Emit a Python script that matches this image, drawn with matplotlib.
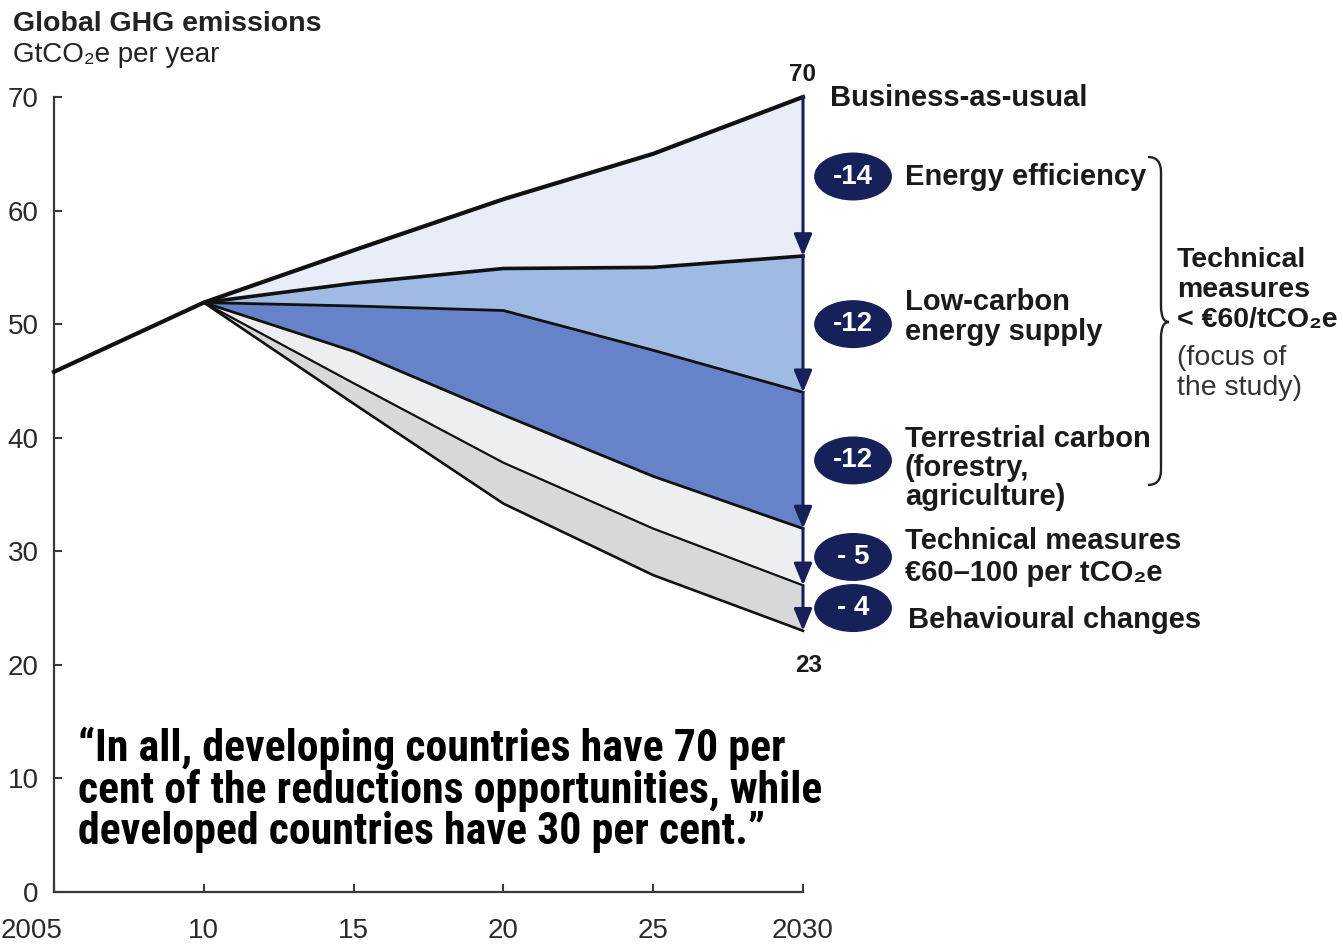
import matplotlib
matplotlib.use("Agg")
import matplotlib.pyplot as plt
import matplotlib.transforms as mtransforms
from matplotlib import font_manager
from matplotlib.font_manager import FontProperties
from matplotlib.patches import Ellipse, PathPatch
from matplotlib.path import Path

# Global GHG emissions, GtCO2e per year
bau_years = [2005, 2010, 2015, 2020, 2025, 2030]
bau = [45.8, 51.9, 56.5, 61.0, 65.0, 70]

# abatement curves fan out from 2010
years = [2010, 2015, 2020, 2025, 2030]
after_efficiency = [51.9, 53.6, 54.9, 55.0, 56]
after_low_carbon = [51.9, 51.6, 51.2, 47.7, 44]
after_terrestrial = [51.9, 47.6, 42.0, 36.6, 32]
after_tech_60_100 = [51.9, 44.8, 37.8, 32.0, 27]
after_behaviour = [51.9, 43.0, 34.2, 27.9, 23]

quote_lines = ["“In all, developing countries have 70 per",
               "cent of the reductions opportunities, while",
               "developed countries have 30 per cent.”"]

band_colors = ["#e8edf8", "#9fbae3", "#6682c9", "#edeeef", "#d7d8da"]
navy = "#16215a"
ink = "#1a1a1a"

W, H = 1343, 946
plt.rcParams['font.family'] = ['Liberation Sans', 'DejaVu Sans']


def narrow_bold_font():
    """Best available condensed bold face, DejaVu Sans Condensed as a last resort."""
    heavy = {"bold", "semibold", "demibold", "demi", "heavy", "extra bold", "black"}
    prefs = ["Liberation Sans Narrow", "Arial Narrow", "Roboto Condensed",
             "Open Sans Condensed", "Noto Sans", "Open Sans", "Roboto", "DejaVu Sans"]
    found = []
    for f in font_manager.fontManager.ttflist:
        w = f.weight
        is_bold = (w >= 600) if isinstance(w, int) else (str(w).lower() in heavy)
        narrow = (f.stretch not in ("normal", "medium", 500)
                  and "condensed" in str(f.stretch)) or "Narrow" in f.name \
            or "Condensed" in f.name
        if is_bold and narrow and "Oblique" not in f.fname and "Italic" not in f.fname:
            found.append(f)
    for p in prefs:
        for f in found:
            if f.name == p:
                return FontProperties(fname=f.fname)
    if found:
        return FontProperties(fname=found[0].fname)
    return FontProperties(family="DejaVu Sans", stretch="condensed", weight="bold")


fig = plt.figure(figsize=(W / 100, H / 100), dpi=100)
ax = fig.add_axes([54 / W, (H - 892) / H, (803 - 54) / W, (892 - 97) / H])
# pixel coordinates measured from the top-left corner of the figure
px = mtransforms.Affine2D().scale(1 / W, -1 / H).translate(0, 1) + fig.transFigure

ax.set_xlim(2005, 2030)
ax.set_ylim(0, 70)
for s in ["top", "right"]:
    ax.spines[s].set_visible(False)
for s in ["left", "bottom"]:
    ax.spines[s].set_color("#3a3a3a")
    ax.spines[s].set_linewidth(1.6)

ax.set_yticks(range(0, 71, 10))
ax.set_xticks([2005, 2010, 2015, 2020, 2025, 2030])
ax.set_xticklabels(["2005", "10", "15", "20", "25", "2030"])
ax.tick_params(direction="in", length=6, width=1.5, color="#3a3a3a",
               labelsize=20, labelcolor="#2a2a2a")
ax.tick_params(axis="y", pad=11)
ax.tick_params(axis="x", pad=19)
first = ax.get_xticklabels()[0]
first.set_ha("right")
first.set_transform(first.get_transform() +
                    mtransforms.ScaledTranslation(8 / 100, 0, fig.dpi_scale_trans))

# stacked abatement wedges
curves = [bau[1:], after_efficiency, after_low_carbon, after_terrestrial,
          after_tech_60_100, after_behaviour]
for upper, lower, c in zip(curves[:-1], curves[1:], band_colors):
    ax.fill_between(years, lower, upper, color=c, lw=0, zorder=1)

widths = [3.0, 2.6, 2.0, 2.0, 1.6, 1.9]
ax.plot(bau_years, bau, color="#111111", lw=widths[0], zorder=4,
        solid_joinstyle="miter", clip_on=False)
for cv, lw in zip(curves[1:], widths[1:]):
    ax.plot(years, cv, color="#111111", lw=lw, zorder=3, clip_on=False)

# arrows down the 2030 column
ends = [cv[-1] for cv in curves]
for top, bottom in zip(ends[:-1], ends[1:]):
    ax.annotate("", xy=(2030, bottom), xytext=(2030, top), annotation_clip=False,
                arrowprops=dict(arrowstyle="-|>,head_length=0.6,head_width=0.25",
                                color=navy, lw=2.2, mutation_scale=22,
                                shrinkA=0, shrinkB=0), zorder=6)

ax.text(2030, bau[-1] + 1.0, f"{bau[-1]:.0f}", ha="center", va="bottom",
        fontsize=17.5, fontweight="bold", color=ink, clip_on=False)
ax.text(2030.2, ends[-1] - 2.0, f"{ends[-1]:.0f}", ha="center", va="top",
        fontsize=17.5, fontweight="bold", color=ink, clip_on=False)

# reduction badges at the middle of each band
badge_x = 2031.67
for top, bottom in zip(ends[:-1], ends[1:]):
    mid = (top + bottom) / 2
    d = bottom - top
    txt = f"{d:.0f}" if abs(d) >= 10 else f"- {abs(d):.0f}"
    ax.add_patch(Ellipse((badge_x, mid), 2.55, 4.1, color=navy, clip_on=False, zorder=7))
    ax.text(badge_x, mid, txt, ha="center", va="center", color="white",
            fontsize=20, fontweight="bold", zorder=8, clip_on=False)

lab = dict(transform=px, fontsize=21, fontweight="bold", color=ink, va="center",
           ha="left", linespacing=1.05)
fig.text(830, 98, "Business-as-usual", **lab)
fig.text(905, 177, "Energy efficiency", **lab)
fig.text(905, 317, "Low-carbon\nenergy supply", **lab)
fig.text(905, 468, "Terrestrial carbon\n(forestry,\nagriculture)", **lab)
fig.text(905, 557, "Technical measures\n€60–100 per tCO₂e", **{**lab, "linespacing": 1.18})
fig.text(908, 620, "Behavioural changes", **lab)

# brace grouping the three technical levers below €60
xb, xt = 1161, 1169
brace = Path([(1148, 157), (xb, 157), (xb, 172),
              (xb, 306),
              (xb, 322), (xt, 322),
              (xb, 322), (xb, 338),
              (xb, 470),
              (xb, 485), (1148, 485)],
             [Path.MOVETO, Path.CURVE3, Path.CURVE3,
              Path.LINETO,
              Path.CURVE3, Path.CURVE3,
              Path.CURVE3, Path.CURVE3,
              Path.LINETO,
              Path.CURVE3, Path.CURVE3])
fig.add_artist(PathPatch(brace, transform=px, fill=False, lw=1.7, ec="#222222"))

right = dict(transform=px, fontsize=20.5, color=ink, va="center", ha="left",
             linespacing=1.22)
fig.text(1177, 290, "Technical\nmeasures\n< €60/tCO₂e", fontweight="bold", **right)
fig.text(1177, 373, "(focus of\nthe study)", **{**right, "color": "#333333"})

# titles
fig.text(13, 24, "Global GHG emissions", transform=px, fontsize=20.5,
         fontweight="bold", color="#222222", va="center")
fig.text(13, 55, "GtCO₂e per year", transform=px, fontsize=20, color="#222222",
         va="center")

# quote, one text per line, sized so the longest line spans 744 px
qprop = narrow_bold_font()
qprop.set_size(30)
qtexts = [fig.text(78, y, line, transform=px, fontproperties=qprop.copy(),
                   color="black", va="center", ha="left")
          for y, line in zip([748, 790, 832], quote_lines)]
renderer = fig.canvas.get_renderer()
widest = max(t.get_window_extent(renderer).width for t in qtexts)
for t in qtexts:
    t.set_fontsize(30 * 744 / widest)

fig.savefig("out.png", dpi=100)
